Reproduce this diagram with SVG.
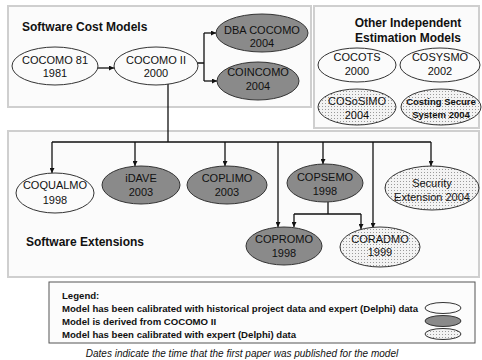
<svg xmlns="http://www.w3.org/2000/svg" width="482" height="360" viewBox="0 0 482 360">
<defs>
<pattern id="dots" width="3" height="3" patternUnits="userSpaceOnUse">
<rect width="3" height="3" fill="#f3f3f3"/>
<rect x="1" y="1" width="1" height="1" fill="#9a9a9a"/>
</pattern>
<marker id="arr" viewBox="0 0 10 10" refX="10" refY="5" markerWidth="5" markerHeight="5" orient="auto" markerUnits="userSpaceOnUse">
<path d="M0,0 L10,5 L0,10 z" fill="#111"/>
</marker>
<style>
.panel{fill:#fbfbfb;stroke:#cfcfcf;stroke-width:2}
.legbox{fill:#fcfcfc;stroke:#555;stroke-width:1}
.e{stroke:#333;stroke-width:1}
.w{fill:#fbfbfb}
.g{fill:#8a8a8a}
.d{fill:url(#dots)}
.t{font-family:"Liberation Sans",Arial,sans-serif;font-size:11px;fill:#111;text-anchor:middle}
.ts{font-size:9.5px;font-weight:bold}
.h{font-family:"Liberation Sans",Arial,sans-serif;font-size:12px;font-weight:bold;fill:#111}
.lg{font-family:"Liberation Sans",Arial,sans-serif;font-size:9.6px;font-weight:bold;fill:#111}
.cap{font-family:"Liberation Sans",Arial,sans-serif;font-size:10px;font-style:italic;fill:#111;text-anchor:middle}
.c{fill:none;stroke:#111;stroke-width:1.3}
.ca{fill:none;stroke:#111;stroke-width:1.3;marker-end:url(#arr)}
</style>
</defs>
<rect width="482" height="360" fill="#ffffff"/>
<g id="panels">
<rect class="panel" x="8" y="6" width="303" height="101"/>
<rect class="panel" x="314" y="6" width="165" height="122"/>
<rect class="panel" x="8" y="131" width="471" height="146"/>
<text class="h" x="22" y="31">Software Cost Models</text>
<text class="h" x="408" y="27" text-anchor="middle">Other Independent</text>
<text class="h" x="408" y="42" text-anchor="middle">Estimation Models</text>
<text class="h" x="26" y="246">Software Extensions</text>
</g>
<g id="connectors">
<path class="ca" d="M98,68 H114"/>
<path class="c" d="M197,63 H204 M204,33 V81"/>
<path class="ca" d="M204,33 H216"/>
<path class="ca" d="M204,81 H217"/>
<path class="c" d="M168,84 V142 M52,142 H431"/>
<path class="ca" d="M52,142 V173"/>
<path class="ca" d="M135,142 V166"/>
<path class="ca" d="M225,142 V166"/>
<path class="ca" d="M278,142 V227"/>
<path class="ca" d="M323,142 V164"/>
<path class="ca" d="M373,142 V228"/>
<path class="ca" d="M431,142 V166"/>
<path class="c" d="M328,202 V214 M294,214 H361"/>
<path class="ca" d="M294,214 V227"/>
<path class="ca" d="M361,214 V229"/>
</g>
<g id="cocomo81"><ellipse class="e w" cx="55" cy="66" rx="43" ry="19"/><text class="t" x="55" y="64">COCOMO 81</text><text class="t" x="55" y="77">1981</text></g>
<g id="cocomo2"><ellipse class="e w" cx="156" cy="66" rx="42" ry="19"/><text class="t" x="156" y="64">COCOMO II</text><text class="t" x="156" y="77">2000</text></g>
<g id="dbacocomo"><ellipse class="e g" cx="262" cy="33" rx="46" ry="19"/><text class="t" x="262" y="34">DBA COCOMO</text><text class="t" x="262" y="47">2004</text></g>
<g id="coincomo"><ellipse class="e g" cx="258" cy="81" rx="41" ry="19"/><text class="t" x="258" y="76">COINCOMO</text><text class="t" x="258" y="90">2004</text></g>
<g id="cocots"><ellipse class="e w" cx="357" cy="65" rx="39" ry="17"/><text class="t" x="357" y="61">COCOTS</text><text class="t" x="357" y="75">2000</text></g>
<g id="cosysmo"><ellipse class="e w" cx="440" cy="65" rx="40" ry="17"/><text class="t" x="440" y="61">COSYSMO</text><text class="t" x="440" y="75">2002</text></g>
<g id="cososimo"><ellipse class="e d" cx="357" cy="107" rx="39" ry="18"/><text class="t" x="357" y="105">COSoSIMO</text><text class="t" x="357" y="119">2004</text></g>
<g id="costingsecure"><ellipse class="e d" cx="441" cy="107" rx="40" ry="18"/><text class="t ts" x="441" y="105">Costing Secure</text><text class="t ts" x="441" y="118">System 2004</text></g>
<g id="coqualmo"><ellipse class="e w" cx="55" cy="193" rx="39" ry="20"/><text class="t" x="55" y="189">COQUALMO</text><text class="t" x="55" y="204">1998</text></g>
<g id="idave"><ellipse class="e g" cx="141" cy="185" rx="39" ry="19"/><text class="t" x="141" y="182">iDAVE</text><text class="t" x="141" y="196">2003</text></g>
<g id="coplimo"><ellipse class="e g" cx="227" cy="185" rx="40" ry="19"/><text class="t" x="227" y="182">COPLIMO</text><text class="t" x="227" y="196">2003</text></g>
<g id="copsemo"><ellipse class="e g" cx="325" cy="183" rx="38" ry="19"/><text class="t" x="325" y="181">COPSEMO</text><text class="t" x="325" y="195">1998</text></g>
<g id="security"><ellipse class="e d" cx="432" cy="188" rx="47" ry="22"/><text class="t" x="432" y="187">Security</text><text class="t" x="432" y="201">Extension 2004</text></g>
<g id="copromo"><ellipse class="e g" cx="284" cy="246" rx="38" ry="19"/><text class="t" x="284" y="243">COPROMO</text><text class="t" x="284" y="257">1998</text></g>
<g id="coradmo"><ellipse class="e d" cx="380" cy="247" rx="40" ry="20"/><text class="t" x="380" y="243">CORADMO</text><text class="t" x="380" y="256">1999</text></g>
<g id="legend">
<rect class="legbox" x="49" y="282" width="426" height="61"/>
<text class="lg" x="62" y="299">Legend:</text>
<text class="lg" x="62" y="312">Model has been calibrated with historical project data and expert (Delphi) data</text>
<text class="lg" x="62" y="325">Model is derived from COCOMO II</text>
<text class="lg" x="62" y="338">Model has been calibrated with expert (Delphi) data</text>
<ellipse class="e w" cx="443" cy="308" rx="18" ry="5.5"/>
<ellipse class="e g" cx="443" cy="321" rx="18" ry="5.5"/>
<ellipse class="e d" cx="443" cy="334" rx="18" ry="5.5"/>
</g>
<text class="cap" x="242" y="357">Dates indicate the time that the first paper was published for the model</text>
</svg>
